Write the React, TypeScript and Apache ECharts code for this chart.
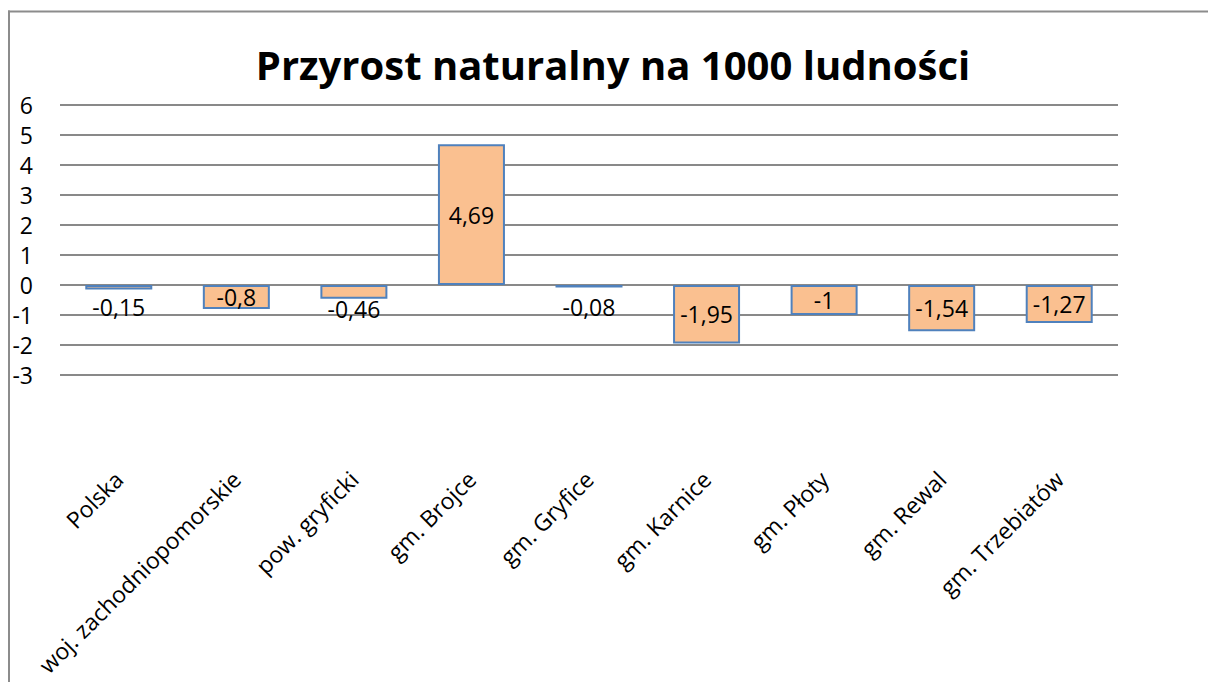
import React, { useEffect, useRef } from "react";
import * as echarts from "echarts";

const categories = [
  "Polska",
  "woj. zachodniopomorskie",
  "pow. gryficki",
  "gm. Brojce",
  "gm. Gryfice",
  "gm. Karnice",
  "gm. Płoty",
  "gm. Rewal",
  "gm. Trzebiatów",
];
const values = [-0.15, -0.8, -0.46, 4.69, -0.08, -1.95, -1, -1.54, -1.27];

const FONT = "Open Sans";
// label placement for bars too small to hold their label (drawn below the bar)
const outsideLabelDistance: Record<number, number> = { 0: 6, 2: -1, 4: 8 };

export default function App() {
  const ref = useRef<HTMLDivElement>(null);
  useEffect(() => {
    if (!ref.current) return;
    const chart = echarts.init(ref.current, undefined, { renderer: "svg" });
    chart.setOption({
      animation: false,
      backgroundColor: "#ffffff",
      graphic: [
        {
          type: "rect",
          shape: { x: 8, y: 10.5, width: 1200, height: 2 },
          style: { fill: "#8c8c8c" },
          silent: true,
        },
        {
          type: "rect",
          shape: { x: 8, y: 10.5, width: 2, height: 672 },
          style: { fill: "#8c8c8c" },
          silent: true,
        },
        {
          type: "text",
          x: 613,
          y: 64,
          style: {
            text: "Przyrost naturalny na 1000 ludności",
            fontFamily: FONT,
            fontWeight: "bold",
            fontSize: 40,
            fill: "#000",
            textAlign: "center",
            textVerticalAlign: "middle",
          },
          silent: true,
        },
      ],
      grid: { left: 60, right: 90, top: 105, bottom: 307 },
      xAxis: {
        type: "category",
        data: categories,
        axisLine: { show: false },
        axisTick: { show: false },
        axisLabel: {
          rotate: 45,
          margin: 100,
          interval: 0,
          fontFamily: FONT,
          fontSize: 23,
          color: "#000",
        },
      },
      yAxis: {
        type: "value",
        min: -3,
        max: 6,
        interval: 1,
        axisLine: { show: false },
        axisTick: { show: false },
        splitLine: { lineStyle: { color: "#898989", width: 2 } },
        axisLabel: { margin: 27, fontFamily: FONT, fontSize: 23, color: "#000" },
      },
      series: [
        {
          type: "bar",
          barWidth: "57%",
          data: values.map((v, i) => ({
            value: v,
            label:
              outsideLabelDistance[i] !== undefined
                ? { position: "bottom", distance: outsideLabelDistance[i] }
                : { position: "inside" },
          })),
          itemStyle: { color: "#FAC090", borderColor: "#4F81BD", borderWidth: 2 },
          label: {
            show: true,
            fontFamily: FONT,
            fontSize: 23,
            color: "#000",
            formatter: (p: any) => String(p.value).replace(".", ","),
          },
        },
      ],
    });
    return () => chart.dispose();
  }, []);
  return (
    <div
      ref={ref}
      style={{ position: "fixed", left: 0, top: 0, width: 1208, height: 682 }}
    />
  );
}
